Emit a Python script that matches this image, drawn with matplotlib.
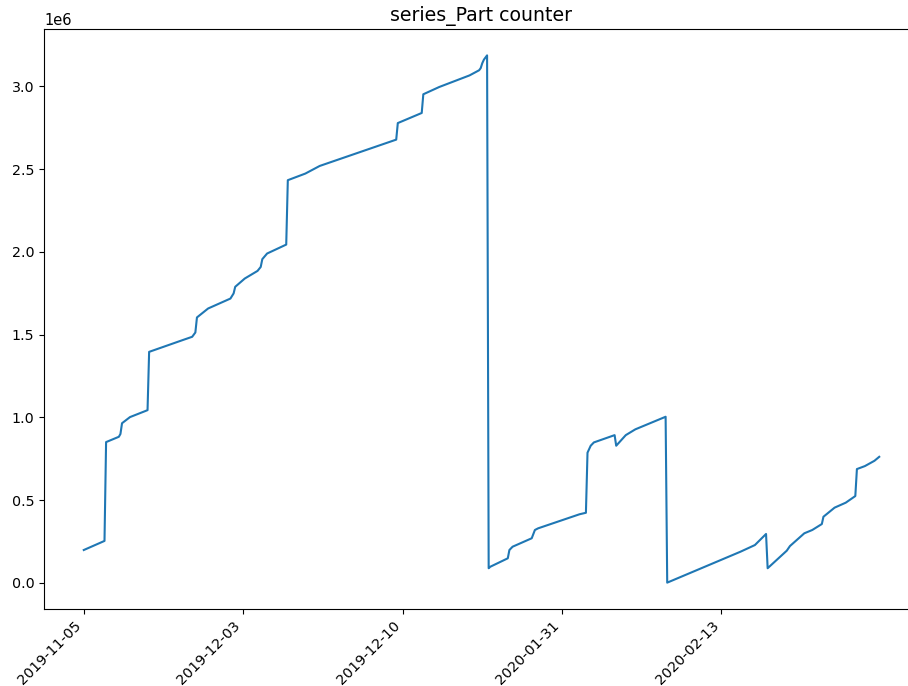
import matplotlib
matplotlib.use("Agg")
import matplotlib.pyplot as plt

# sample positions (row number in the log) and part counter readings
sample_idx = [0, 13, 14, 22, 23, 24, 29, 39, 40, 41, 62, 68, 70, 71, 78, 92, 94, 95,
              101, 109, 111, 112, 115, 127, 128, 139, 148, 196, 197, 212, 213, 223,
              242, 248, 249, 250, 251, 253, 254, 255, 266, 267, 269, 281, 283, 285,
              311, 315, 316, 318, 320, 333, 334, 340, 346, 365, 366, 412, 421, 428,
              429, 441, 443, 452, 457, 463, 464, 471, 478, 484, 485, 490, 496, 499]
part_counter = [0.199, 0.254, 0.851, 0.883, 0.900, 0.965, 1.002, 1.040, 1.044, 1.396,
                1.467, 1.487, 1.513, 1.604, 1.658, 1.718, 1.749, 1.789, 1.839, 1.885,
                1.909, 1.956, 1.990, 2.044, 2.433, 2.473, 2.519, 2.678, 2.778, 2.839,
                2.952, 2.996, 3.066, 3.097, 3.110, 3.140, 3.161, 3.187, 0.089, 0.098,
                0.149, 0.199, 0.219, 0.270, 0.320, 0.330, 0.415, 0.424, 0.787, 0.829,
                0.849, 0.893, 0.829, 0.893, 0.928, 1.004, 0.002, 0.189, 0.229, 0.296,
                0.089, 0.195, 0.223, 0.300, 0.320, 0.356, 0.400, 0.455, 0.485, 0.525,
                0.688, 0.706, 0.738, 0.762]
part_counter = [v * 1e6 for v in part_counter]

# date labels shown under every 100th row
tick_rows = [0, 100, 200, 300, 400]
tick_dates = ["2019-11-05", "2019-12-03", "2019-12-10", "2020-01-31", "2020-02-13"]

plt.rcParams["font.size"] = 10.5

fig = plt.figure(figsize=(9.08, 6.86), dpi=100)
ax = fig.add_axes([44 / 908, 77 / 686, 875 / 908, 580 / 686])
ax.plot(sample_idx, part_counter, color="#1f77b4", lw=1.5)
ax.set_xlim(-24.95, 523.95)
ax.set_xticks(tick_rows)
ax.set_xticklabels(tick_dates, rotation=45, ha="right")
ax.tick_params(labelsize=10.3)
ax.set_title("series_Part counter", fontsize=13.6)

fig.savefig("out.png", dpi=100)
